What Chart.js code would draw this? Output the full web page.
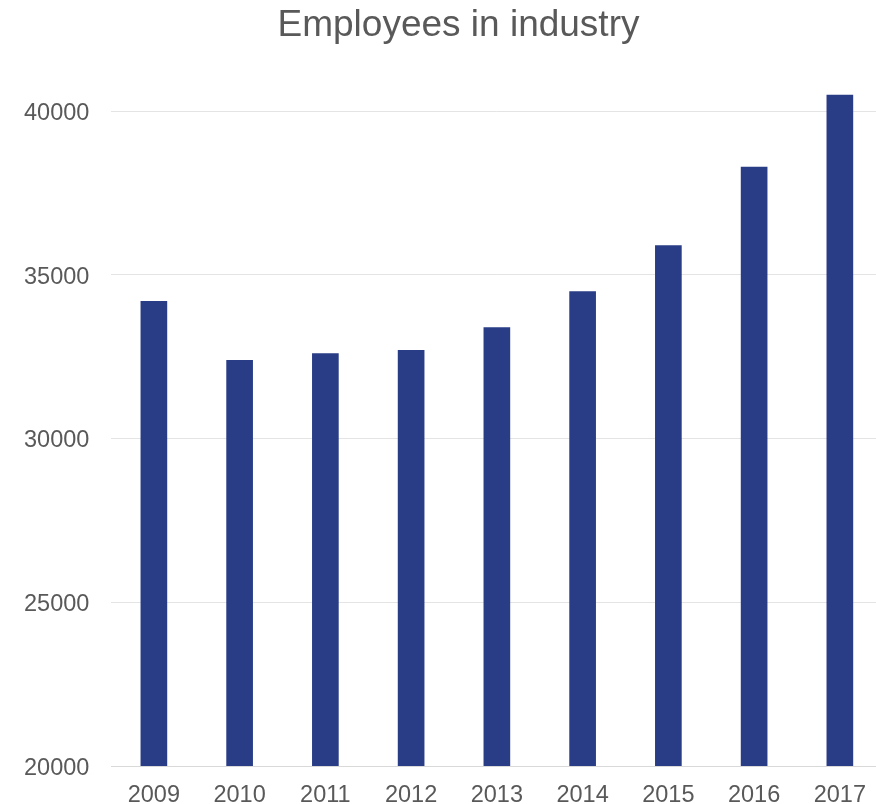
<!DOCTYPE html>
<html>
<head>
<meta charset="utf-8">
<title>Employees in industry</title>
<script src="https://cdn.jsdelivr.net/npm/chart.js@4/dist/chart.umd.min.js"></script>
<style>
  html, body { margin: 0; padding: 0; background: #fff; overflow: hidden; }
  #wrap { width: 884px; height: 804px; position: relative; }
</style>
</head>
<body>
<div id="wrap"><canvas id="empChart"></canvas></div>
<script>
// dados: empregados na indústria por ano
const anos = ['2009', '2010', '2011', '2012', '2013', '2014', '2015', '2016', '2017'];
const empregados = [34200, 32400, 32600, 32700, 33400, 34500, 35900, 38300, 40500];
const yTicks = [20000, 25000, 30000, 35000, 40000];

const corBarra = '#293c86';
const corTexto = '#595959';
const fonte = '"Liberation Sans", Arial, Helvetica, sans-serif';

const ctx = document.getElementById('empChart').getContext('2d');
new Chart(ctx, {
  type: 'bar',
  data: {
    labels: anos,
    datasets: [{
      label: 'Employees',
      data: empregados,
      backgroundColor: corBarra,
      borderWidth: 0,
      barPercentage: 0.311,
      categoryPercentage: 1
    }]
  },
  options: {
    responsive: true,
    maintainAspectRatio: false,
    animation: false,
    layout: { padding: { left: 33, right: 0, top: 0, bottom: 0 } },
    plugins: {
      legend: { display: false },
      tooltip: { enabled: false },
      title: {
        display: true,
        text: 'Employees in industry',
        color: corTexto,
        font: { family: fonte, size: 37, weight: 'normal', lineHeight: 1.2 },
        padding: { top: 3.5, bottom: 30.35 }
      }
    },
    scales: {
      x: {
        grid: { display: false, drawTicks: false },
        border: { display: true, color: '#d9d9d9', width: 1 },
        ticks: {
          color: corTexto,
          font: { family: fonte, size: 23.5, lineHeight: 1 },
          padding: 18,
          maxRotation: 0
        },
        afterFit: s => { s.height = 38; }
      },
      y: {
        min: 20000,
        max: 41000,
        grid: { color: '#e4e4e4', lineWidth: 1, drawTicks: false },
        border: { display: false },
        ticks: {
          stepSize: 5000,
          color: corTexto,
          font: { family: fonte, size: 23.5 },
          // mirror evita o recorte dos rótulos; o padding negativo os põe à esquerda do eixo
          mirror: true,
          crossAlign: 'near',
          padding: -87,
          labelOffset: 2.5,
          callback: v => String(v)
        },
        // só mostra as marcas de 5000 em 5000 (sem o topo 41000)
        afterBuildTicks: s => {
          s.ticks = yTicks.map(v => ({ value: v }));
        },
        afterFit: s => { s.width = 78; }
      }
    }
  }
});
</script>
</body>
</html>
